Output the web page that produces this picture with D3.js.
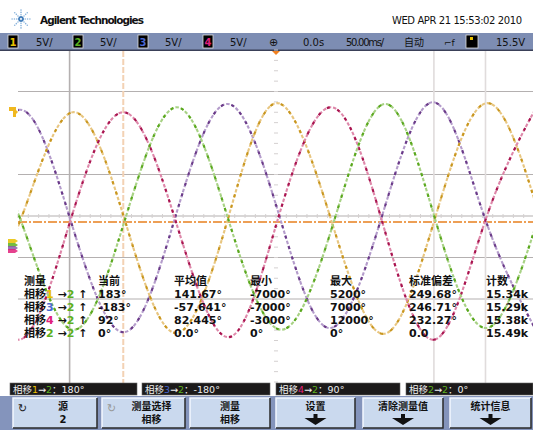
<!DOCTYPE html>
<html><head><meta charset="utf-8">
<script src="https://cdn.jsdelivr.net/npm/d3@7"></script>
<style>
body{margin:0;background:#fff;}
svg{display:block;font-family:"DejaVu Sans","Noto Sans CJK SC",sans-serif;}
</style></head>
<body><svg id="c" width="533" height="430"></svg>
<script>
// ---- data (time in ms, value in V) ----
const ch1Yellow = [[-297,-14.0],[-247,-0.3],[-197,12.5],[-147,-0.3],[-97,-14.1],[-46.5,-0.3],[1,13.6],[53,-0.3],[104,-14.2],[154,-0.3],[205,13.6],[256,-0.3]];
const ch2Green  = [[-298,13.0],[-248,-0.3],[-197,-13.7],[-146,-0.3],[-96,13.1],[-46.5,-0.3],[5,-13.7],[57,-0.3],[106,13.5],[154,-0.3],[203.5,-13.5],[254,-0.3]];
const ch3Purple = [[-298,-0.3],[-248,12.8],[-199.6,-0.3],[-148,-14.0],[-98,-0.3],[-47,13.5],[4,-0.3],[52,-13.5],[102,-0.3],[153,13.7],[202.5,-0.3],[253,-14.0]];
const ch4Magenta= [[-300,-0.3],[-249,-14.9],[-198.6,-0.3],[-148,12.5],[-98,-0.3],[-46.5,-14.6],[2,-0.3],[53,13.1],[102,-0.3],[153,-14.9],[203.5,-0.3],[254,13.5]];
const gridVolts = [15, 5, 0, -5, -10];
const cursorTimes = [-200, -148, 153, 203];
const triggerLevel = -0.72;
const measHeaders = ["测量","当前","平均值","最小","最大","标准偏差","计数"];
const measSrc = ["1","3","4","2"];
const measCur = ["183°","-183°","92°","0°"];
const measAvg = ["141.67°","-57.641°","82.445°","0.0°"];
const measMin = ["-7000°","-7000°","-3000°","0°"];
const measMax = ["5200°","7000°","12000°","0°"];
const measStd = ["249.68°","246.71°","232.27°","0.0"];
const measCnt = ["15.34k","15.29k","15.38k","15.49k"];
const boxLabels = [["1","180°"],["3","-180°"],["4","90°"],["2","0°"]];
const buttons = [["源","2"],["测量选择","相移"],["测量","相移"],["设置",null],["清除测量值",null],["统计信息",null]];

const chColor = {"1":"#e8c000","2":"#5cb020","3":"#4a68d0","4":"#e0207a"};

const svg = d3.select("#c");
const x = d3.scaleLinear().domain([-250,250]).range([18,534]);
const y = d3.scaleLinear().domain([-20,20]).range([382,50]);

// header
const logo = svg.append("g").attr("transform","translate(21,19)");
for (let a=0;a<8;a++){
  for (let r=2;r<=9;r+=2.3){
    const ang=a*Math.PI/4;
    logo.append("circle").attr("cx",Math.cos(ang)*r).attr("cy",Math.sin(ang)*r)
      .attr("r",r<4?1.1:0.8).attr("fill",r<4?"#3a78b8":"#8ab4dc");
  }
}
svg.append("text").attr("x",40).attr("y",24).attr("font-size",10.5).attr("font-weight","bold")
  .attr("fill","#111").attr("textLength",104).text("Agilent Technologies");
svg.append("text").attr("x",392).attr("y",24).attr("font-size",10).attr("fill","#111")
  .attr("textLength",130).text("WED APR 21 15:53:02 2010");

// status bar
svg.append("rect").attr("x",0).attr("y",33).attr("width",533).attr("height",17).attr("fill","#7d8db3");
svg.append("rect").attr("x",0).attr("y",49.5).attr("width",533).attr("height",1.5).attr("fill","#3a4058");
[["1",8,36],["2",73,100],["3",138,165],["4",203,230]].forEach(([c,bx,tx])=>{
  svg.append("rect").attr("x",bx).attr("y",35).attr("width",10).attr("height",13).attr("fill","#000").attr("stroke","#ddd").attr("stroke-width",0.8);
  svg.append("text").attr("x",bx+5).attr("y",45.5).attr("text-anchor","middle").attr("font-size",10).attr("font-weight","bold").attr("fill",chColor[c]).text(c);
  svg.append("text").attr("x",tx).attr("y",45.5).attr("font-size",10).attr("fill","#111").text("5V/");
});
svg.append("text").attr("x",269).attr("y",46).attr("font-size",11).attr("fill","#111").text("⊕");
svg.append("text").attr("x",303).attr("y",45.5).attr("font-size",10).attr("fill","#111").text("0.0s");
svg.append("text").attr("x",346).attr("y",45.5).attr("font-size",10).attr("fill","#111").attr("textLength",38).text("50.00ms/");
svg.append("text").attr("x",404).attr("y",46).attr("font-size",10).attr("fill","#111").text("自动");
svg.append("text").attr("x",444).attr("y",45.5).attr("font-size",9).attr("fill","#111").text("⌐f");
svg.append("rect").attr("x",466).attr("y",35).attr("width",12).attr("height",13).attr("fill","#000").attr("stroke","#ddd").attr("stroke-width",0.8);
svg.append("rect").attr("x",470).attr("y",37).attr("width",3).attr("height",3).attr("fill","#e8c000");
svg.append("text").attr("x",496).attr("y",45.5).attr("font-size",10).attr("fill","#111").text("15.5V");

// grid
svg.append("g").selectAll("line").data(gridVolts).join("line")
  .attr("x1",18).attr("x2",533).attr("y1",d=>y(d)).attr("y2",d=>y(d))
  .attr("stroke","#b4b0b0").attr("stroke-width",1.2);
// minor ticks
const tickG = svg.append("g");
d3.range(-250,251,10).forEach(t=>tickG.append("line").attr("x1",x(t)).attr("x2",x(t)).attr("y1",y(0)-2).attr("y2",y(0)+2).attr("stroke","#d4d0d0").attr("stroke-width",1));
d3.range(-20,20.1,1.25).forEach(v=>tickG.append("line").attr("x1",x(0)-2).attr("x2",x(0)+2).attr("y1",y(v)).attr("y2",y(v)).attr("stroke","#d4d0d0").attr("stroke-width",1));

// cursors
svg.append("line").attr("x1",x(cursorTimes[0])).attr("x2",x(cursorTimes[0])).attr("y1",51).attr("y2",383).attr("stroke","#b4b0b0").attr("stroke-width",1.6);
svg.append("line").attr("x1",x(cursorTimes[1])).attr("x2",x(cursorTimes[1])).attr("y1",51).attr("y2",383).attr("stroke","#f3d2b4").attr("stroke-width",2).attr("stroke-dasharray","6,2");
[cursorTimes[2],cursorTimes[3]].forEach(t=>svg.append("line").attr("x1",x(t)).attr("x2",x(t)).attr("y1",51).attr("y2",383).attr("stroke","#e0dcdc").attr("stroke-width",1.6));

// trigger level
svg.append("line").attr("x1",18).attr("x2",533).attr("y1",y(triggerLevel)).attr("y2",y(triggerLevel))
  .attr("stroke","#e8801e").attr("stroke-width",1.3).attr("stroke-dasharray","9,2,2,2");
// trigger position marker
svg.append("path").attr("d",`M${x(0)-4},51 L${x(0)+4},51 L${x(0)},55 Z`).attr("fill","#f08020");

// waves
svg.append("clipPath").attr("id","clip").append("rect").attr("x",18).attr("y",51).attr("width",515).attr("height",330);
const line = d3.line().x(d=>x(d[0])).y(d=>y(d[1])).curve(d3.curveNatural);
const waves = [
  [ch3Purple,"#6a3a88","#b49ccb"],
  [ch1Yellow,"#c8961e","#e8c680"],
  [ch4Magenta,"#a8144f","#de88aa"],
  [ch2Green,"#5aa81e","#a8d285"]
];
const wg = svg.append("g").attr("clip-path","url(#clip)");
waves.forEach(([data,dark,light])=>{
  wg.append("path").attr("d",line(data)).attr("fill","none").attr("stroke",light).attr("stroke-width",2.1).attr("stroke-dasharray","3.5,1.8");
  wg.append("path").attr("d",line(data)).attr("fill","none").attr("stroke",dark).attr("stroke-width",2.1).attr("stroke-dasharray","3,8").attr("stroke-dashoffset",2);
});

// left markers
svg.append("path").attr("d","M9,107 L16,107 L16,110 L18,112 L16,114 L16,117 L13,117 L13,111 L9,111 Z").attr("fill","#f0b820");
[["#e8c000",241],["#5cb020",245],["#8a5aa8",248],["#e0207a",251]].forEach(([c,yy])=>{
  svg.append("path").attr("d",`M8,${yy-2} L15,${yy-2} L18,${yy} L15,${yy+2} L8,${yy+2} Z`).attr("fill",c).attr("opacity",0.85);
});

// measurement table
const colX = [24,98,174,250,330,409,486];
const tg = svg.append("g").attr("font-size",11).attr("font-weight","bold").attr("fill","#111");
measHeaders.forEach((h,i)=>tg.append("text").attr("x",colX[i]).attr("y",285).text(h));
const cols = [measCur,measAvg,measMin,measMax,measStd,measCnt];
measSrc.forEach((s,r)=>{
  const yy = 298 + r*13;
  const t = tg.append("text").attr("x",colX[0]).attr("y",yy);
  t.append("tspan").text("相移");
  t.append("tspan").attr("fill",chColor[s]).text(s);
  t.append("tspan").text(" →");
  t.append("tspan").attr("fill",chColor["2"]).text("2");
  t.append("tspan").text(" ↑");
  cols.forEach((c,i)=>tg.append("text").attr("x",colX[i+1]).attr("y",yy).text(c[r]));
});

// bottom area
svg.append("rect").attr("x",0).attr("y",396).attr("width",533).attr("height",34).attr("fill","#8494bc");
const boxX = [[10,137],[142,270],[276,400],[406,533]];
boxLabels.forEach(([s,v],i)=>{
  const [a,b]=boxX[i];
  svg.append("rect").attr("x",a).attr("y",383).attr("width",b-a).attr("height",12).attr("fill","#1c1a1a").attr("stroke","#666").attr("stroke-width",0.6);
  const t = svg.append("text").attr("x",a+3).attr("y",393).attr("font-size",9.5).attr("fill","#eee");
  t.append("tspan").text("相移");
  t.append("tspan").attr("fill",chColor[s]).text(s);
  t.append("tspan").text("→");
  t.append("tspan").attr("fill",chColor["2"]).text("2");
  t.append("tspan").text("：" + v);
});
const btnX = [[13,97],[102,185],[190,270],[276,355],[363,443],[450,531]];
buttons.forEach(([l1,l2],i)=>{
  const [a,b]=btnX[i];
  const g = svg.append("g");
  g.append("rect").attr("x",a).attr("y",398).attr("width",b-a).attr("height",30).attr("fill","#cad9ee");
  g.append("path").attr("d",`M${a},428 L${a},398 L${b},398`).attr("stroke","#f4f8ff").attr("stroke-width",1.5).attr("fill","none");
  g.append("path").attr("d",`M${a},428 L${b},428 L${b},398`).attr("stroke","#2a2a2a").attr("stroke-width",1.5).attr("fill","none");
  const cx=(a+b)/2 + (i<2?8:0);
  g.append("text").attr("x",cx).attr("y",410).attr("text-anchor","middle").attr("font-size",10).attr("font-weight","bold").attr("fill","#111").text(l1);
  if (l2) g.append("text").attr("x",cx).attr("y",423).attr("text-anchor","middle").attr("font-size",10).attr("font-weight","bold").attr("fill","#111").text(l2);
  else g.append("path").attr("d",`M${cx-2},414 L${cx+2},414 L${cx+2},418 L${cx+11},418 L${cx},425 L${cx-11},418 L${cx-2},418 Z`).attr("fill","#111");
  if (i<2) g.append("text").attr("x",a+5).attr("y",412).attr("font-size",11).attr("fill",i==0?"#222":"#999").text("↻");
});
</script></body></html>
